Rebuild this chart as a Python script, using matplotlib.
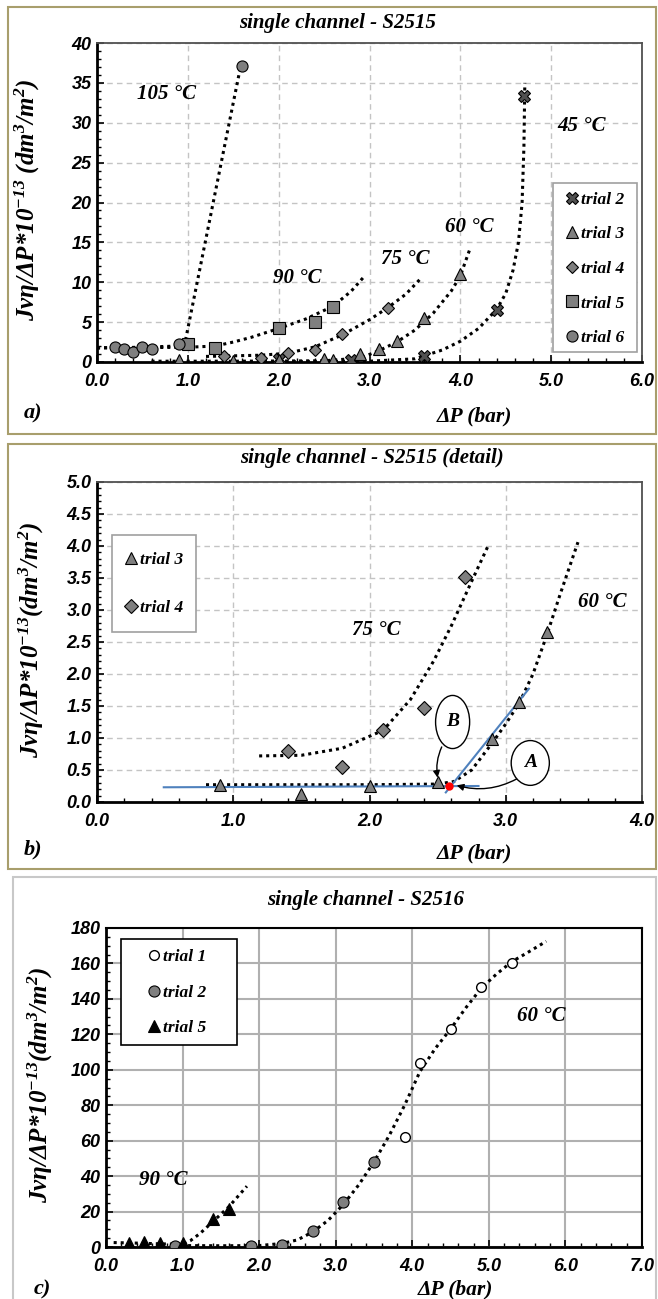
import matplotlib
matplotlib.use('Agg')
import matplotlib.pyplot as plt
from matplotlib.patches import Rectangle, Ellipse
from matplotlib.ticker import MultipleLocator, FormatStrFormatter

plt.rcParams['font.family'] = ['Liberation Sans', 'DejaVu Sans']
plt.rcParams['font.weight'] = 'bold'
plt.rcParams['font.style'] = 'italic'
plt.rcParams['mathtext.fontset'] = 'custom'
plt.rcParams['mathtext.rm'] = 'Liberation Serif:bold:italic'
plt.rcParams['mathtext.it'] = 'Liberation Serif:bold:italic'
plt.rcParams['mathtext.bf'] = 'Liberation Serif:bold:italic'

SERIF = ['Liberation Serif', 'DejaVu Serif']

# ---------------- data: panel a (S2515) ----------------
a_t2_x = [2.0, 2.8, 3.6, 4.4, 4.7]
a_t2_y = [0.4, 0.2, 0.7, 6.5, 33.3]
a_t3_x = [0.9, 1.5, 2.0, 2.5, 2.6, 2.9, 3.1, 3.3, 3.6, 4.0]
a_t3_y = [0.27, 0.13, 0.25, 0.32, 0.25, 0.98, 1.57, 2.65, 5.5, 11.0]
a_t4_x = [1.4, 1.8, 2.1, 2.4, 2.7, 3.2]
a_t4_y = [0.8, 0.55, 1.12, 1.47, 3.52, 6.8]
a_t5_x = [1.0, 1.3, 2.0, 2.4, 2.6]
a_t5_y = [2.3, 1.7, 4.3, 5.0, 6.9]
a_t6_x = [0.2, 0.3, 0.4, 0.5, 0.6, 0.9, 1.6]
a_t6_y = [1.9, 1.6, 1.3, 1.9, 1.6, 2.2, 37.1]

a_fit105_x = [0.0, 0.3, 0.6, 0.9, 0.97, 1.05, 1.2, 1.35, 1.5, 1.58]
a_fit105_y = [1.75, 1.8, 1.9, 2.0, 2.5, 7.0, 15.5, 24.0, 32.5, 37.0]
a_fit90_x = [0.0, 0.5, 1.0, 1.3, 1.5, 1.7, 2.0, 2.3, 2.6, 2.8, 2.94]
a_fit90_y = [1.8, 1.8, 1.85, 2.0, 2.5, 3.1, 4.2, 5.4, 7.0, 8.9, 10.7]
a_fit75_x = [1.2, 1.8, 2.1, 2.4, 2.7, 3.0, 3.2, 3.4, 3.55]
a_fit75_y = [0.7, 0.85, 1.1, 1.9, 3.4, 5.3, 6.8, 8.5, 10.3]
a_fit60_x = [0.6, 1.5, 2.5, 2.9, 3.1, 3.3, 3.5, 3.7, 3.9, 4.0, 4.1]
a_fit60_y = [0.1, 0.1, 0.15, 0.5, 1.4, 2.5, 4.0, 6.1, 8.9, 10.8, 14.0]
a_fit45_x = [2.0, 3.0, 3.5, 3.8, 4.0, 4.2, 4.4, 4.5, 4.58, 4.64, 4.68, 4.70, 4.71]
a_fit45_y = [0.05, 0.1, 0.4, 1.5, 2.6, 4.2, 6.6, 8.6, 11.5, 15.0, 20.0, 27.0, 35.0]

a_temp_labels = ['105 °C', '90 °C', '75 °C', '60 °C', '45 °C']
a_temp_x = [0.77, 2.21, 3.39, 4.1, 5.33]
a_temp_y = [33.6, 10.5, 12.9, 16.9, 29.6]

# ---------------- data: panel b (detail) ----------------
b_t3_x = [0.9, 1.5, 2.0, 2.5, 2.9, 3.1, 3.3]
b_t3_y = [0.27, 0.13, 0.25, 0.32, 0.98, 1.57, 2.65]
b_t4_x = [1.4, 1.8, 2.1, 2.4, 2.7]
b_t4_y = [0.8, 0.55, 1.12, 1.47, 3.52]
b_fit75_x = [1.19, 1.5, 1.8, 2.1, 2.3, 2.47, 2.6, 2.75, 2.87]
b_fit75_y = [0.72, 0.73, 0.84, 1.12, 1.6, 2.2, 2.75, 3.45, 4.0]
b_fit60_x = [0.8, 1.5, 2.0, 2.5, 2.62, 2.75, 2.9, 3.0, 3.1, 3.2, 3.3, 3.4, 3.53]
b_fit60_y = [0.27, 0.27, 0.27, 0.28, 0.32, 0.5, 0.92, 1.22, 1.55, 2.0, 2.6, 3.25, 4.06]
b_blue1_x = [0.49, 2.80]
b_blue1_y = [0.23, 0.25]
b_blue2_x = [2.56, 3.17]
b_blue2_y = [0.15, 1.77]
b_red_x = [2.58]
b_red_y = [0.25]
b_temp_labels = ['75 °C', '60 °C']
b_temp_x = [2.05, 3.71]
b_temp_y = [2.69, 3.12]

# ---------------- data: panel c (S2516) ----------------
c_t1_x = [3.9, 4.1, 4.5, 4.9, 5.3]
c_t1_y = [62.0, 104.0, 123.0, 146.5, 160.5]
c_t2_x = [0.9, 1.9, 2.3, 2.7, 3.1, 3.5]
c_t2_y = [0.4, 0.4, 1.0, 8.8, 25.5, 48.0]
c_t5_x = [0.3, 0.5, 0.7, 1.0, 1.4, 1.6]
c_t5_y = [2.0, 3.0, 2.3, 2.3, 16.0, 21.5]
c_fit60_x = [0.98, 1.5, 2.0, 2.3, 2.5, 2.7, 2.9, 3.1, 3.3, 3.5, 3.7, 3.9, 4.1, 4.3, 4.5, 4.7, 4.9, 5.1, 5.3, 5.5, 5.75]
c_fit60_y = [0.8, 0.7, 0.8, 2.0, 4.0, 8.5, 15.0, 24.0, 35.0, 48.0, 63.0, 80.0, 99.0, 112.0, 123.0, 135.0, 146.0, 154.0, 161.0, 166.0, 172.5]
c_fit90_x = [0.1, 0.4, 0.7, 1.0, 1.1, 1.23, 1.4, 1.6, 1.84]
c_fit90_y = [2.5, 2.2, 1.8, 1.5, 3.5, 7.7, 14.5, 22.5, 34.3]
c_temp_labels = ['60 °C', '90 °C']
c_temp_x = [5.69, 0.75]
c_temp_y = [130.5, 37.7]

W, H = 658, 1299
fig = plt.figure(figsize=(W / 100, H / 100), dpi=100)


def box(l, t, r, b):
    return [l / W, 1 - b / H, (r - l) / W, (b - t) / H]


def ftext(x, y, s, **kw):
    fig.text(x / W, 1 - y / H, s, **kw)


def fpt(x, y):
    return (x / W, 1 - y / H)


# frames
OLIVE = '#a89e6c'
fig.add_artist(Rectangle(fpt(8, 434), 648 / W, 427 / H, transform=fig.transFigure,
                         fill=False, edgecolor=OLIVE, lw=1.5))
fig.add_artist(Rectangle(fpt(8, 869), 648 / W, 425 / H, transform=fig.transFigure,
                         fill=False, edgecolor=OLIVE, lw=1.5))
fig.add_artist(Rectangle(fpt(13, 1305), 643 / W, 428 / H, transform=fig.transFigure,
                         fill=False, edgecolor='#c8c8c8', lw=1.5))

FIT = dict(color='black', ls=(0, (1, 1.3)), lw=2.2, zorder=3)
GRAY = '#7f7f7f'
SER_FS = 15
TICK_FS = 13


def style_axes(ax, dashed=True):
    if dashed:
        ax.grid(True, which='major', ls=(0, (4, 3)), color='#c4c4c4', lw=1.0)
        for s in ['top', 'right']:
            ax.spines[s].set_color('#505050')
            ax.spines[s].set_linewidth(1.3)
    else:
        ax.grid(True, which='major', ls='-', color='#b0b0b0', lw=1.5)
        for s in ['top', 'right']:
            ax.spines[s].set_color('black')
            ax.spines[s].set_linewidth(1.5)
    for s in ['left', 'bottom']:
        ax.spines[s].set_color('black')
        ax.spines[s].set_linewidth(2.0)
    ax.set_axisbelow(True)
    ax.tick_params(which='both', direction='in', top=False, right=False, labelsize=TICK_FS)
    ax.tick_params(which='major', length=5, width=1.2)
    ax.tick_params(which='minor', length=3, width=1.0)
    ax.tick_params(axis='x', pad=8)
    ax.tick_params(axis='y', pad=4)


def legend_box(ax, handles, frame_px, anchor_px, bp, ls, edge):
    l, t, r, b = frame_px
    ax.add_patch(Rectangle(fpt(l, b), (r - l) / W, (b - t) / H, transform=fig.transFigure,
                           facecolor='white', edgecolor=edge, lw=1.2, zorder=4.8, clip_on=False))
    ax.legend(handles=handles, loc='upper left', bbox_to_anchor=fpt(*anchor_px),
              bbox_transform=fig.transFigure, frameon=False, prop=leg_prop,
              handlelength=0.6, handletextpad=0.2, labelspacing=ls, borderpad=bp,
              borderaxespad=0).set_zorder(5)


YLAB = r'Jvη/ΔP*10$^{-13}$ (dm$^{3}$/m$^{2}$)'
YLAB2 = r'Jvη/ΔP*10$^{-13}$(dm$^{3}$/m$^{2}$)'
YLAB_FS = 18
XLAB_FS = 15.5
leg_prop = dict(family=SERIF, weight='bold', style='italic', size=12.5)

# ================= panel a =================
ax = fig.add_axes(box(97, 43, 642, 362))
style_axes(ax)
ax.set_xlim(0, 6)
ax.set_ylim(0, 40)
ax.xaxis.set_major_locator(MultipleLocator(1.0))
ax.xaxis.set_minor_locator(MultipleLocator(0.2))
ax.yaxis.set_major_locator(MultipleLocator(5))
ax.yaxis.set_minor_locator(MultipleLocator(1))
ax.xaxis.set_major_formatter(FormatStrFormatter('%.1f'))
for fx, fy in [(a_fit105_x, a_fit105_y), (a_fit90_x, a_fit90_y), (a_fit75_x, a_fit75_y),
               (a_fit60_x, a_fit60_y), (a_fit45_x, a_fit45_y)]:
    ax.plot(fx, fy, **FIT)
h2, = ax.plot(a_t2_x, a_t2_y, 'X', ms=8, mfc='#505050', mec='black', mew=0.8, ls='none', zorder=4, label='trial 2')
h3, = ax.plot(a_t3_x, a_t3_y, '^', ms=8, mfc=GRAY, mec='black', mew=0.8, ls='none', zorder=4, label='trial 3')
h4, = ax.plot(a_t4_x, a_t4_y, 'D', ms=6.5, mfc=GRAY, mec='black', mew=0.8, ls='none', zorder=4, label='trial 4')
h5, = ax.plot(a_t5_x, a_t5_y, 's', ms=8, mfc=GRAY, mec='black', mew=0.8, ls='none', zorder=4, label='trial 5')
h6, = ax.plot(a_t6_x, a_t6_y, 'o', ms=8, mfc=GRAY, mec='black', mew=0.8, ls='none', zorder=4, label='trial 6')
for s, x, y in zip(a_temp_labels, a_temp_x, a_temp_y):
    ax.text(x, y, s, family=SERIF, fontsize=SER_FS, ha='center', va='center', zorder=5)
legend_box(ax, [h2, h3, h4, h5, h6], (553, 183, 637, 352), (558, 183), 0.5, 1.06, '#a0a0a0')
ftext(338, 23, 'single channel - S2515', family=SERIF, fontsize=15, ha='center', va='center')
ftext(27, 200, YLAB, family=SERIF, fontsize=YLAB_FS, rotation=90, ha='center', va='center')
ftext(474, 416, 'ΔP (bar)', family=SERIF, fontsize=XLAB_FS, ha='center', va='center')
ftext(33, 413, 'a)', family=SERIF, fontsize=16, ha='center', va='center')

# ================= panel b =================
ax = fig.add_axes(box(97, 482, 642, 802))
style_axes(ax)
ax.set_xlim(0, 4)
ax.set_ylim(0, 5)
ax.xaxis.set_major_locator(MultipleLocator(1.0))
ax.xaxis.set_minor_locator(MultipleLocator(0.2))
ax.yaxis.set_major_locator(MultipleLocator(0.5))
ax.yaxis.set_minor_locator(MultipleLocator(0.1))
ax.xaxis.set_major_formatter(FormatStrFormatter('%.1f'))
ax.yaxis.set_major_formatter(FormatStrFormatter('%.1f'))
ax.plot(b_fit75_x, b_fit75_y, **FIT)
ax.plot(b_fit60_x, b_fit60_y, **FIT)
ax.plot(b_blue1_x, b_blue1_y, color='#4f81bd', lw=1.5, zorder=4)
ax.plot(b_blue2_x, b_blue2_y, color='#4f81bd', lw=1.5, zorder=4)
g3, = ax.plot(b_t3_x, b_t3_y, '^', ms=8, mfc=GRAY, mec='black', mew=0.8, ls='none', zorder=5, label='trial 3')
g4, = ax.plot(b_t4_x, b_t4_y, 'D', ms=7, mfc=GRAY, mec='black', mew=0.8, ls='none', zorder=5, label='trial 4')
ax.plot(b_red_x, b_red_y, 'o', ms=5, mfc='red', mec='red', ls='none', zorder=6)
for s, x, y in zip(b_temp_labels, b_temp_x, b_temp_y):
    ax.text(x, y, s, family=SERIF, fontsize=SER_FS, ha='center', va='center', zorder=5)
ax.add_patch(Ellipse((2.61, 1.25), 0.25, 0.83, fill=True, facecolor='white', edgecolor='black', lw=1.0, zorder=6))
ax.add_patch(Ellipse((3.18, 0.61), 0.28, 0.70, fill=True, facecolor='white', edgecolor='black', lw=1.0, zorder=6))
ax.text(2.61, 1.25, 'B', family=SERIF, fontsize=14, ha='center', va='center', zorder=7)
ax.text(3.18, 0.61, 'A', family=SERIF, fontsize=14, ha='center', va='center', zorder=7)
ax.annotate('', xy=(2.50, 0.38), xytext=(2.53, 0.86),
            arrowprops=dict(arrowstyle='-|>', color='black', lw=1.0, mutation_scale=10,
                            connectionstyle='arc3,rad=0.15', shrinkA=0, shrinkB=0), zorder=7)
ax.annotate('', xy=(2.64, 0.26), xytext=(3.08, 0.36),
            arrowprops=dict(arrowstyle='-|>', color='black', lw=1.0, mutation_scale=10,
                            connectionstyle='arc3,rad=-0.2', shrinkA=0, shrinkB=0), zorder=7)
legend_box(ax, [g3, g4], (112, 535, 196, 632), (109, 535), 0.96, 1.86, '#a0a0a0')
ftext(372, 458, 'single channel - S2515 (detail)', family=SERIF, fontsize=15, ha='center', va='center')
ftext(31, 640, YLAB2, family=SERIF, fontsize=YLAB_FS, rotation=90, ha='center', va='center')
ftext(474, 853, 'ΔP (bar)', family=SERIF, fontsize=XLAB_FS, ha='center', va='center')
ftext(33, 849, 'b)', family=SERIF, fontsize=16, ha='center', va='center')

# ================= panel c =================
ax = fig.add_axes(box(106, 928, 642, 1247))
style_axes(ax, dashed=False)
ax.set_xlim(0, 7)
ax.set_ylim(0, 180)
ax.xaxis.set_major_locator(MultipleLocator(1.0))
ax.xaxis.set_minor_locator(MultipleLocator(0.2))
ax.yaxis.set_major_locator(MultipleLocator(20))
ax.yaxis.set_minor_locator(MultipleLocator(5))
ax.xaxis.set_major_formatter(FormatStrFormatter('%.1f'))
ax.plot(c_fit60_x, c_fit60_y, **FIT)
ax.plot(c_fit90_x, c_fit90_y, **FIT)
k1, = ax.plot(c_t1_x, c_t1_y, 'o', ms=7, mfc='white', mec='black', mew=1.0, ls='none', zorder=4, label='trial 1')
k2, = ax.plot(c_t2_x, c_t2_y, 'o', ms=8, mfc=GRAY, mec='black', mew=0.8, ls='none', zorder=4, label='trial 2')
k5, = ax.plot(c_t5_x, c_t5_y, '^', ms=8, mfc='black', mec='black', mew=0.8, ls='none', zorder=4, label='trial 5')
for s, x, y in zip(c_temp_labels, c_temp_x, c_temp_y):
    ax.text(x, y, s, family=SERIF, fontsize=SER_FS, ha='center', va='center', zorder=5)
legend_box(ax, [k1, k2, k5], (121, 939, 237, 1045), (139, 939), 0.59, 1.11, 'black')
ftext(366, 900, 'single channel - S2516', family=SERIF, fontsize=15, ha='center', va='center')
ftext(40, 1085, YLAB2, family=SERIF, fontsize=YLAB_FS, rotation=90, ha='center', va='center')
ftext(455, 1289, 'ΔP (bar)', family=SERIF, fontsize=XLAB_FS, ha='center', va='center')
ftext(42, 1289, 'c)', family=SERIF, fontsize=16, ha='center', va='center')

fig.savefig('out.png', dpi=100)
